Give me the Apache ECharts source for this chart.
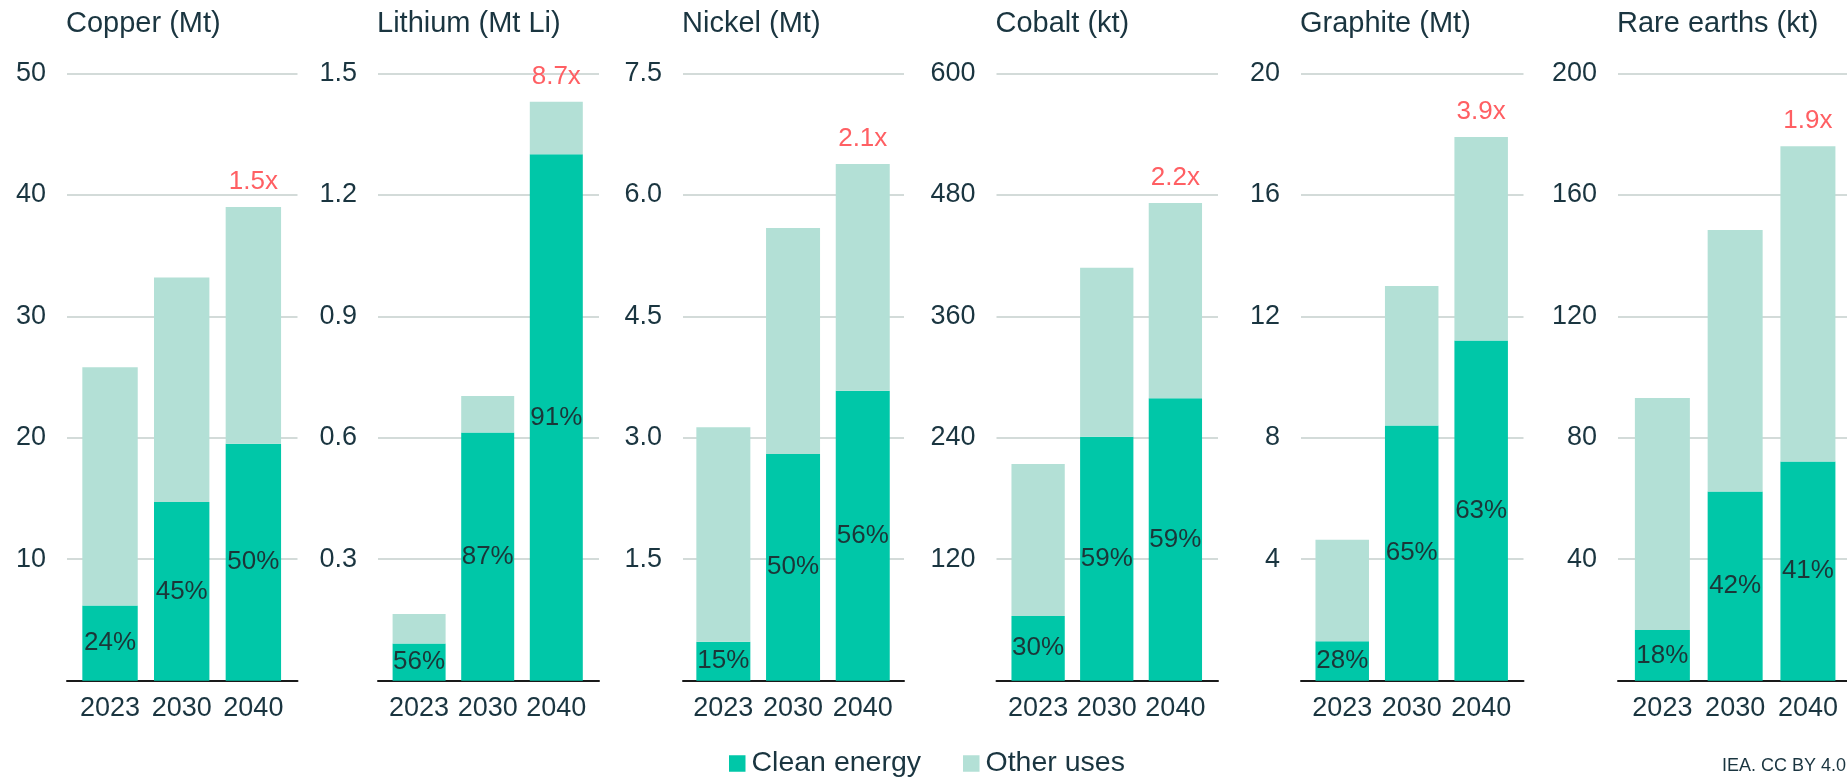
<!DOCTYPE html>
<html>
<head>
<meta charset="utf-8">
<script src="https://cdn.jsdelivr.net/npm/echarts@6/dist/echarts.min.js"></script>
<style>
html,body{margin:0;padding:0;background:#fff;}
#chart{width:1847px;height:778px;}
</style>
</head>
<body>
<div id="chart"></div>
<script>
// ---------- data ----------
const categories = ['2023', '2030', '2040'];
const titles = ['Copper (Mt)', 'Lithium (Mt Li)', 'Nickel (Mt)', 'Cobalt (kt)', 'Graphite (Mt)', 'Rare earths (kt)'];

const copperClean = [6.2, 14.7, 19.5];
const copperOther = [19.6, 18.5, 19.5];
const lithiumClean = [0.092, 0.613, 1.30];
const lithiumOther = [0.073, 0.090, 0.13];
const nickelClean = [0.48, 2.80, 3.58];
const nickelOther = [2.65, 2.79, 2.80];
const cobaltClean = [64, 241, 279];
const cobaltOther = [150, 167, 193];
const graphiteClean = [1.3, 8.4, 11.2];
const graphiteOther = [3.34, 4.6, 6.7];
const rareClean = [16.7, 62.3, 72.2];
const rareOther = [76.4, 86.1, 103.8];

const copperShare = ['24%', '45%', '50%'];
const lithiumShare = ['56%', '87%', '91%'];
const nickelShare = ['15%', '50%', '56%'];
const cobaltShare = ['30%', '59%', '59%'];
const graphiteShare = ['28%', '65%', '63%'];
const rareShare = ['18%', '42%', '41%'];

const growthLabels = ['1.5x', '8.7x', '2.1x', '2.2x', '3.9x', '1.9x'];

const yMax = [50, 1.5, 7.5, 600, 20, 200];
const yInterval = [10, 0.3, 1.5, 120, 4, 40];
const copperTicks = ['10', '20', '30', '40', '50'];
const lithiumTicks = ['0.3', '0.6', '0.9', '1.2', '1.5'];
const nickelTicks = ['1.5', '3.0', '4.5', '6.0', '7.5'];
const cobaltTicks = ['120', '240', '360', '480', '600'];
const graphiteTicks = ['4', '8', '12', '16', '20'];
const rareTicks = ['40', '80', '120', '160', '200'];

const cleanSets = [copperClean, lithiumClean, nickelClean, cobaltClean, graphiteClean, rareClean];
const otherSets = [copperOther, lithiumOther, nickelOther, cobaltOther, graphiteOther, rareOther];
const shareSets = [copperShare, lithiumShare, nickelShare, cobaltShare, graphiteShare, rareShare];
const tickSets = [copperTicks, lithiumTicks, nickelTicks, cobaltTicks, graphiteTicks, rareTicks];

// ---------- layout ----------
const gridX0 = [67, 378, 683, 996.5, 1301, 1618];
const gridX1 = [297.5, 599, 904, 1218, 1523.5, 1850];
const barX0 = [74.2, 384.8, 688.5, 1003.8, 1307.5, 1626];
const barX1 = [289.2, 590.6, 897.6, 1209.7, 1515.9, 1844.3];
const barW = [55.4, 53, 54, 53.3, 53.5, 55];
const TOP = 73.3, BOTTOM = 680.7;

const FONT = '"Liberation Sans", Arial, Helvetica, sans-serif';
const TEXT = '#1a3540';
const CLEAN = '#00c7a8';
const OTHER = '#b3e0d6';
const RED = '#ff5f63';

const grids = [], xAxes = [], yAxes = [], series = [], titleArr = [];

for (let i = 0; i < 6; i++) {
  // grid A: gridlines, y labels, baseline
  grids.push({left: gridX0[i], top: TOP, width: gridX1[i] - gridX0[i], height: BOTTOM - TOP, containLabel: false});
  // grid B: bars and x labels
  grids.push({left: barX0[i], top: TOP, width: barX1[i] - barX0[i], height: BOTTOM - TOP, containLabel: false});

  const ticks = tickSets[i];
  const iv = yInterval[i];
  xAxes.push({
    gridIndex: 2 * i, type: 'category', data: categories,
    axisLine: {show: true, lineStyle: {color: '#1a1a1a', width: 2}},
    axisTick: {show: false}, axisLabel: {show: false}, splitLine: {show: false}
  });
  xAxes.push({
    gridIndex: 2 * i + 1, type: 'category', data: categories,
    axisLine: {show: false}, axisTick: {show: false},
    axisLabel: {show: true, interval: 0, hideOverlap: false, margin: 14, fontSize: 27, color: TEXT, fontFamily: FONT}
  });
  yAxes.push({
    gridIndex: 2 * i, type: 'value', min: 0, max: yMax[i], interval: iv,
    axisLine: {show: false}, axisTick: {show: false},
    splitLine: {show: true, lineStyle: {color: '#d3dbd9', width: 2}},
    axisLabel: {
      show: true, margin: 21, fontSize: 27, color: TEXT, fontFamily: FONT,
      formatter: function (v) {
        const k = Math.round(v / iv);
        return k >= 1 ? ticks[k - 1] : '';
      }
    }
  });
  yAxes.push({
    gridIndex: 2 * i + 1, type: 'value', min: 0, max: yMax[i], interval: iv, show: false,
    splitLine: {show: false}
  });

  const shares = shareSets[i];
  series.push({
    name: 'Clean energy', type: 'bar', stack: 's' + i,
    xAxisIndex: 2 * i + 1, yAxisIndex: 2 * i + 1,
    barWidth: barW[i], itemStyle: {color: CLEAN}, z: 3,
    label: {
      show: true, position: 'inside', fontSize: 26, color: '#1b3638', fontFamily: FONT,
      formatter: function (p) { return shares[p.dataIndex]; }
    },
    data: cleanSets[i]
  });
  const growth = growthLabels[i];
  series.push({
    name: 'Other uses', type: 'bar', stack: 's' + i,
    xAxisIndex: 2 * i + 1, yAxisIndex: 2 * i + 1,
    barWidth: barW[i], itemStyle: {color: OTHER}, z: 3,
    data: otherSets[i].map(function (v, j) {
      if (j === 2) {
        return {value: v, label: {show: true, position: 'top', distance: 12, fontSize: 26,
          color: RED, fontFamily: FONT, formatter: growth}};
      }
      return v;
    })
  });

  titleArr.push({
    text: titles[i], left: gridX0[i] - 1, top: 9, padding: 0,
    textStyle: {fontSize: 29, fontWeight: 'normal', color: TEXT, fontFamily: FONT}
  });
}

titleArr.push({
  text: 'IEA. CC BY 4.0', right: 1, top: 757, padding: 0,
  textStyle: {fontSize: 18, fontWeight: 'normal', color: TEXT, fontFamily: FONT}
});

const chart = echarts.init(document.getElementById('chart'), null, {renderer: 'canvas'});
chart.setOption({
  animation: false,
  backgroundColor: '#ffffff',
  title: titleArr,
  legend: {
    data: ['Clean energy', 'Other uses'],
    left: 729, top: 749, padding: 0,
    icon: 'rect', itemWidth: 16.5, itemHeight: 16.5, itemGap: 42,
    textStyle: {fontSize: 28.5, color: TEXT, fontFamily: FONT, padding: [0, 0, 0, 1]},
    selectedMode: false
  },
  grid: grids,
  xAxis: xAxes,
  yAxis: yAxes,
  series: series
});
</script>
</body>
</html>
